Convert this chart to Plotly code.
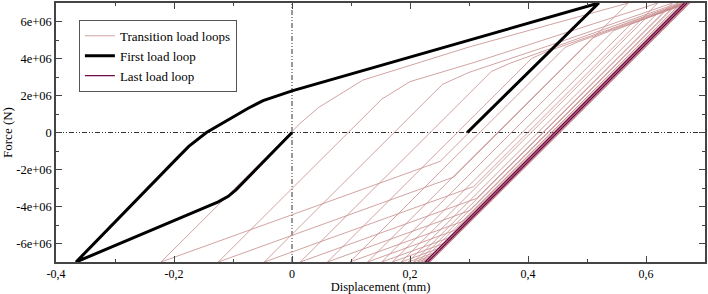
import plotly.graph_objects as go

# ---------------- data ----------------
peak_force = 7.0e6
trough_force = -7.0e6

# First load loop (black)
first_loop_x = [0.0, -0.095, -0.108, -0.125, -0.155, -0.366,
                -0.195, -0.175, -0.145, -0.105, -0.075, -0.049, -0.025, 0.0, 0.520, 0.297]
first_loop_y = [0.0, -3.10e6, -3.45e6, -3.75e6, -4.15e6, -7.0e6,
                -1.40e6, -0.75e6, 0.0, 0.77e6, 1.30e6, 1.72e6, 2.00e6, 2.25e6, 7.0e6, 0.0]

# Transition loops: displacement at peak force (first entry = top of first loop)
loop_top_x = [0.520, 0.570, 0.620, 0.645, 0.655, 0.660, 0.663, 0.665, 0.667, 0.668,
              0.669, 0.670, 0.671, 0.672, 0.673, 0.674, 0.674, 0.674, 0.675]
# displacement at minimum force for each transition loop
loop_bottom_x = [-0.222, -0.125, -0.047, 0.014, 0.060, 0.098, 0.128, 0.152, 0.170,
                 0.185, 0.197, 0.206, 0.213, 0.219, 0.224, 0.228, 0.231, 0.233]
# end of elastic unloading
unload_yield_x = [0.251, 0.274, 0.308, 0.313, 0.302, 0.289, 0.276, 0.266, 0.259,
                  0.252, 0.247, 0.243, 0.241, 0.239, 0.238, 0.237, 0.235, 0.235]
unload_yield_y = [-1.56e6, -2.41e6, -2.92e6, -3.56e6, -4.21e6, -4.81e6, -5.29e6, -5.69e6, -5.98e6,
                  -6.23e6, -6.43e6, -6.57e6, -6.68e6, -6.77e6, -6.84e6, -6.90e6, -6.95e6, -6.97e6]
# end of elastic reloading
reload_yield_x = [0.014, 0.152, 0.255, 0.338, 0.406, 0.463, 0.509, 0.545, 0.574,
                  0.599, 0.618, 0.634, 0.645, 0.655, 0.662, 0.667, 0.6706, 0.6726]
reload_yield_y = [0.50e6, 1.80e6, 2.60e6, 3.30e6, 4.00e6, 4.60e6, 5.10e6, 5.50e6, 5.85e6,
                  6.15e6, 6.40e6, 6.60e6, 6.75e6, 6.85e6, 6.92e6, 6.97e6, 6.98e6, 6.98e6]
# hardening branch points
knee1_x = [0.045, 0.200, 0.300, 0.370, 0.430, 0.485, 0.528, 0.563, 0.590,
           0.612, 0.630, 0.644, 0.654, 0.660, 0.666, 0.670, 0.672, 0.6735]
knee1_y = [1.35e6, 2.75e6, 3.25e6, 3.75e6, 4.35e6, 4.90e6, 5.35e6, 5.72e6, 6.05e6,
           6.32e6, 6.55e6, 6.72e6, 6.84e6, 6.90e6, 6.95e6, 6.98e6, 6.99e6, 6.99e6]
knee2_x = [0.120, 0.310, 0.450, 0.500, 0.540, 0.570, 0.600, 0.620, 0.635,
           0.645, 0.652, 0.660, 0.664, 0.667, 0.670, 0.672, 0.673, 0.674]
knee2_y = [2.83e6, 3.80e6, 4.85e6, 5.25e6, 5.60e6, 5.90e6, 6.20e6, 6.40e6, 6.58e6,
           6.70e6, 6.80e6, 6.88e6, 6.93e6, 6.95e6, 6.98e6, 6.99e6, 6.995e6, 6.995e6]
knee3_x = [0.300, 0.450, 0.550, 0.580, 0.600, 0.620, 0.635, 0.645, 0.655,
           0.660, 0.664, 0.667, 0.669, 0.670, 0.672, 0.673, 0.6735, 0.6745]
knee3_y = [4.62e6, 5.25e6, 5.95e6, 6.15e6, 6.30e6, 6.50e6, 6.62e6, 6.70e6, 6.80e6,
           6.88e6, 6.92e6, 6.95e6, 6.97e6, 6.98e6, 6.99e6, 6.995e6, 6.998e6, 6.998e6]

# Last load loop (purple)
last_loop_x = [0.6695, 0.2300, 0.2255, 0.665]
last_loop_y = [7.0e6, -7.0e6, -7.0e6, 7.0e6]

x_tick_vals = [-0.4, -0.2, 0.0, 0.2, 0.4, 0.6]
x_tick_text = ["-0,4", "-0,2", "0", "0,2", "0,4", "0,6"]
y_tick_vals = [-6e6, -4e6, -2e6, 0, 2e6, 4e6, 6e6]
y_tick_text = ["-6e+06", "-4e+06", "-2e+06", "0", "2e+06", "4e+06", "6e+06"]

# ---------------- build transition path ----------------
trans_x, trans_y = [], []
for i in range(len(loop_bottom_x)):
    trans_x += [loop_top_x[i], unload_yield_x[i], loop_bottom_x[i], reload_yield_x[i],
                knee1_x[i], knee2_x[i], knee3_x[i], loop_top_x[i + 1]]
    trans_y += [peak_force, unload_yield_y[i], trough_force, reload_yield_y[i],
                knee1_y[i], knee2_y[i], knee3_y[i], peak_force]

FONT = "Liberation Serif, Times New Roman, serif"
AX = "#444444"

fig = go.Figure()
fig.add_trace(go.Scatter(x=trans_x, y=trans_y, mode="lines", name="Transition load loops",
                         line=dict(color="rgb(198,140,140)", width=0.8)))
fig.add_trace(go.Scatter(x=first_loop_x, y=first_loop_y, mode="lines", name="First load loop",
                         line=dict(color="black", width=3)))
fig.add_trace(go.Scatter(x=last_loop_x, y=last_loop_y, mode="lines", name="Last load loop",
                         line=dict(color="rgb(110,10,75)", width=1.2)))

dash = "5px,2px,1px,2px,1px,2px"
fig.add_shape(type="line", xref="x", yref="paper", x0=0, x1=0, y0=0, y1=1,
              line=dict(color="#333", width=1, dash=dash), layer="below")
fig.add_shape(type="line", xref="paper", yref="y", x0=0, x1=1, y0=0, y1=0,
              line=dict(color="#333", width=1, dash=dash), layer="below")

axis_common = dict(showline=True, linecolor=AX, linewidth=1.5, mirror="ticks",
                   ticks="inside", ticklen=6, tickwidth=1, tickcolor=AX,
                   showgrid=False, zeroline=False)

fig.update_xaxes(range=[-0.4, 0.7], tickmode="array", tickvals=x_tick_vals, ticktext=x_tick_text,
                 tickfont=dict(family=FONT, size=12, color="black"),
                 minor=dict(tickmode="linear", tick0=0, dtick=0.1, ticks="inside", ticklen=3,
                            tickcolor=AX, showgrid=False),
                 title=dict(text="Displacement (mm)", font=dict(family=FONT, size=12.5, color="black"),
                            standoff=3),
                 **axis_common)
fig.update_yaxes(range=[-7e6, 7e6], tickmode="array", tickvals=y_tick_vals, ticktext=y_tick_text,
                 tickfont=dict(family=FONT, size=12.5, color="black"),
                 minor=dict(tickmode="linear", tick0=0, dtick=1e6, ticks="inside", ticklen=3,
                            tickcolor=AX, showgrid=False),
                 title=dict(text="Force (N)", font=dict(family=FONT, size=13, color="black"),
                            standoff=4),
                 **axis_common)

fig.update_layout(
    width=708, height=294,
    margin=dict(l=56, r=1, t=2, b=31),
    plot_bgcolor="white", paper_bgcolor="white",
    showlegend=True,
    legend=dict(x=0.0353, y=0.935, xanchor="left", yanchor="top",
                bgcolor="white", bordercolor="#555", borderwidth=1,
                font=dict(family=FONT, size=13, color="black"),
                itemwidth=30, tracegroupgap=0),
)

fig.write_html("out.html", config={"displayModeBar": False},
               post_script="document.body.style.margin='0px';")
